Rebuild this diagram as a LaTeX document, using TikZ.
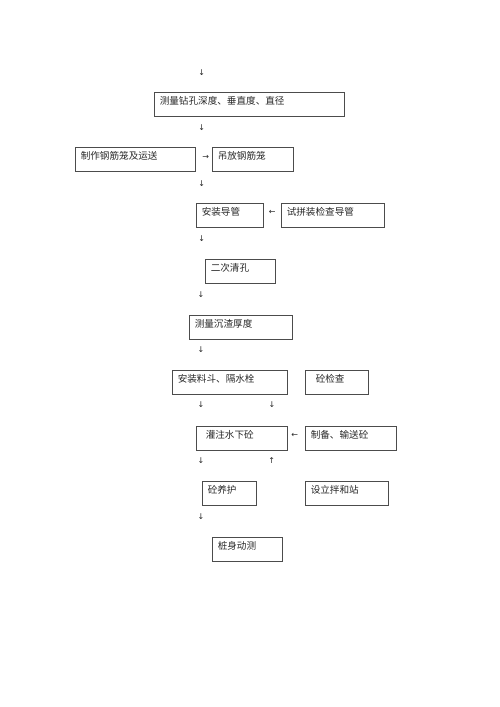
\documentclass[tikz,border=0pt]{standalone}
\usepackage{fontspec}
\newfontfamily\cjk{Noto Sans CJK SC}
\newfontfamily\arrowfont{DejaVu Sans}

\begin{document}
\begin{tikzpicture}[x=1pt,y=-1pt,
    box/.style={draw=black!70, line width=0.5pt, anchor=north west, inner xsep=5.5pt, inner ysep=0pt,
      text height=12.3pt, text depth=11.2pt, align=left, text=black!85, font=\cjk\fontsize{9.6}{11}\selectfont},
    arr/.style={inner sep=0pt, text=black!85, font=\arrowfont\fontsize{8}{9}\selectfont}]
    \useasboundingbox (0,0) rectangle (500,707);
    % boxes
    \node[box, text width=179pt] (depth) at (154,92) {测量钻孔深度、垂直度、直径};
    \node[box, text width=109pt] (cage) at (75,147) {制作钢筋笼及运送};
    \node[box, text width=70pt] (hoist) at (212,147) {吊放钢筋笼};
    \node[box, text width=56pt] (pipe) at (196,203) {安装导管};
    \node[box, text width=92pt] (test) at (281,203) {试拼装检查导管};
    \node[box, text width=59pt] (clean) at (205,259) {二次清孔};
    \node[box, text width=92pt] (silt) at (189,315) {测量沉渣厚度};
    \node[box, text width=104pt] (hopper) at (172,370) {安装料斗、隔水栓};
    \node[box, text width=52pt] (check) at (305,370) {\hspace*{5pt}砼检查};
    \node[box, text width=80pt] (pour) at (196,426) {\hspace*{4pt}灌注水下砼};
    \node[box, text width=80pt] (supply) at (305,426) {制备、输送砼};
    \node[box, text width=43pt] (cure) at (202,481) {砼养护};
    \node[box, text width=72pt] (plant) at (305,481) {设立拌和站};
    \node[box, text width=59pt] (pile) at (212,537) {桩身动测};
    % arrows
    \node[arr] (a1) at (201.7,72.3) {↓};
    \node[arr] (a2) at (201.7,127.7) {↓};
    \node[arr] (a3) at (205.7,157.5) {→};
    \node[arr] (a4) at (201.7,183.3) {↓};
    \node[arr] (a5) at (272.3,212.5) {←};
    \node[arr] (a6) at (201.7,238.7) {↓};
    \node[arr] (a7) at (201,294.3) {↓};
    \node[arr] (a8) at (201,349.3) {↓};
    \node[arr] (a9) at (201,405) {↓};
    \node[arr] (a10) at (272,405) {↓};
    \node[arr] (a11) at (294.7,435) {←};
    \node[arr] (a12) at (201,461) {↓};
    \node[arr] (a13) at (271.7,461) {↑};
    \node[arr] (a14) at (201,516.7) {↓};
  \end{tikzpicture}
\end{document}
